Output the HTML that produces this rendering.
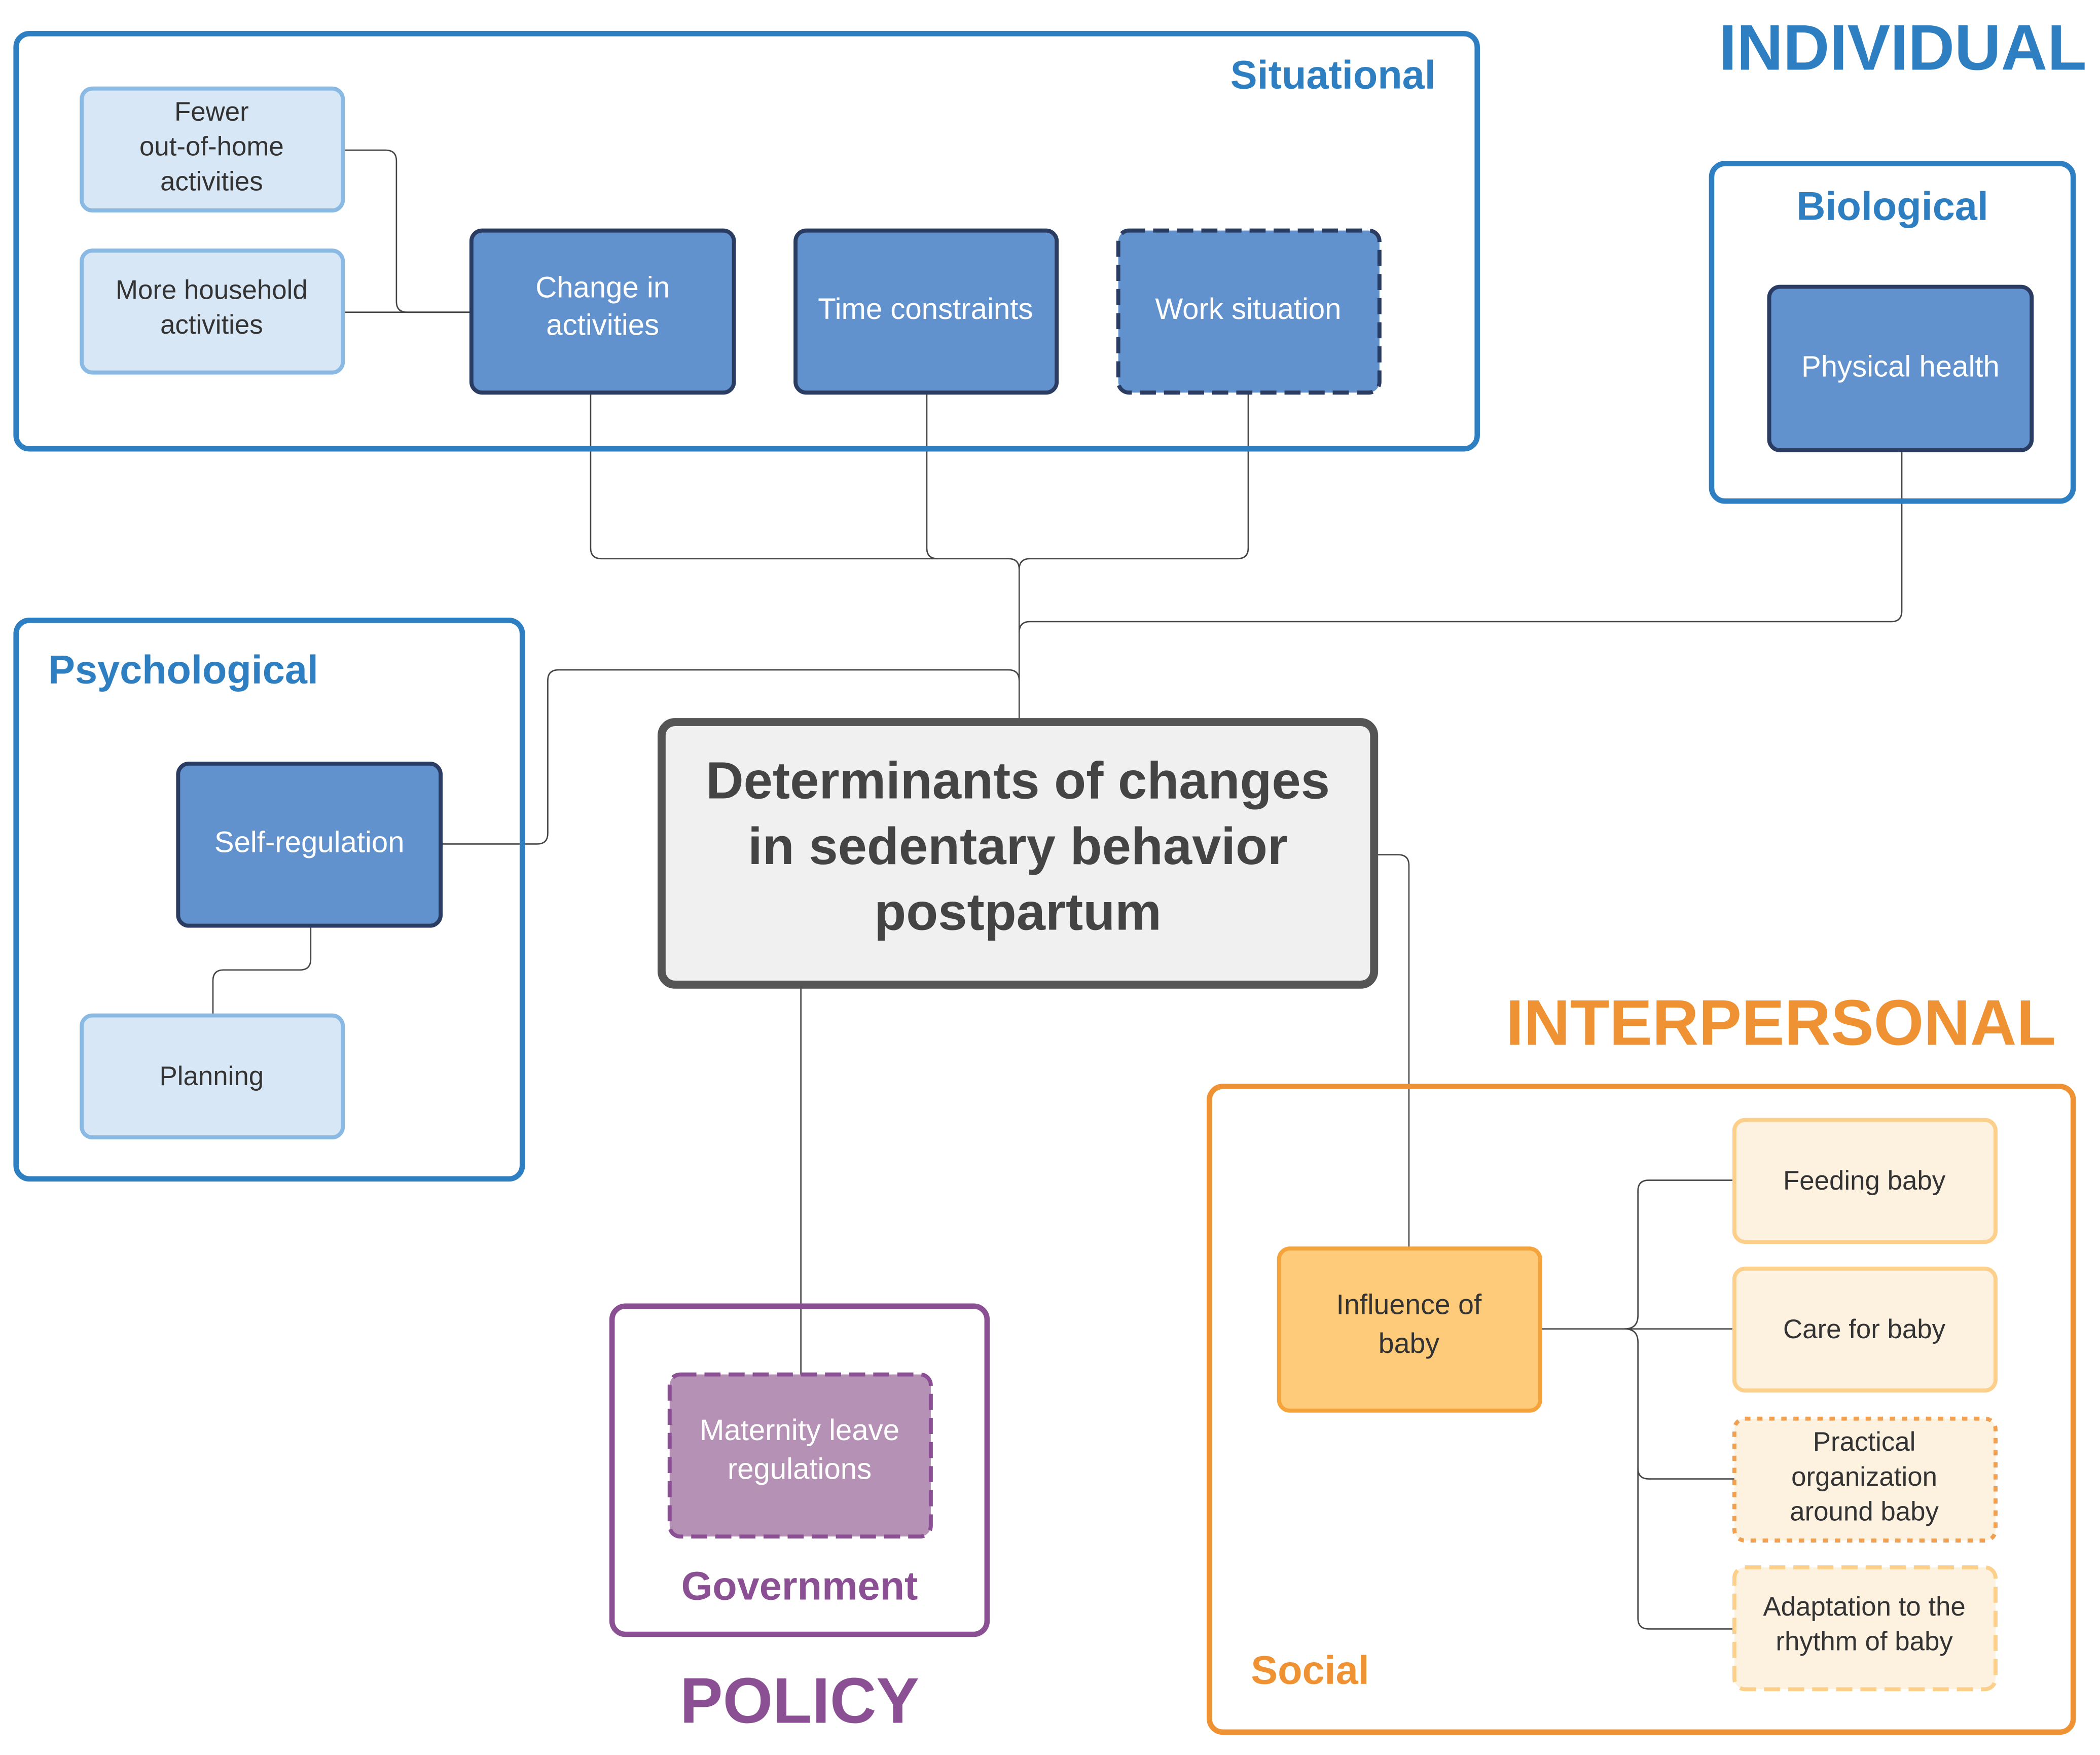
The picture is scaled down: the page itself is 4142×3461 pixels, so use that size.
<!DOCTYPE html>
<html><head><meta charset="utf-8"><style>html,body{margin:0;padding:0;background:#fff}svg{display:block}</style></head>
<body>
<svg xmlns="http://www.w3.org/2000/svg" width="4142" height="3461" viewBox="0 0 1568 1310" font-family="Liberation Sans, Arial, sans-serif">
<rect width="1568" height="1310" fill="#fff"/>
<g fill="none" stroke="#444" stroke-width="1">
<path d="M256 112 H288 Q296 112 296 120 V225 Q296 233 304 233 H352"/>
<path d="M256 233 H352"/>
<path d="M441 293 V409 Q441 417 449 417 H753 Q761 417 761 425 V539"/>
<path d="M692 293 V409 Q692 417 700 417"/>
<path d="M932 293 V409 Q932 417 924 417 H769 Q761 417 761 425"/>
<path d="M1420 336 V456 Q1420 464 1412 464 H769 Q761 464 761 472"/>
<path d="M329 630 H401 Q409 630 409 622 V508 Q409 500 417 500 H753 Q761 500 761 508"/>
<path d="M1026 638 H1044 Q1052 638 1052 646 V932"/>
<path d="M598 735 V1026"/>
<path d="M232 691 V716 Q232 724 224 724 H167 Q159 724 159 732 V758"/>
<path d="M1150 992 H1213 Q1223 992 1223 982 V889 Q1223 881 1231 881 H1295"/>
<path d="M1213 992 H1295"/>
<path d="M1213 992 Q1223 992 1223 1002 V1208 Q1223 1216 1231 1216 H1295"/>
<path d="M1223 1096 Q1223 1104 1231 1104 H1295"/>
</g>
<rect x="12" y="25" width="1091" height="310" rx="10" fill="none" stroke="#2e7fc1" stroke-width="4"/>
<rect x="1278" y="122" width="270" height="252" rx="10" fill="none" stroke="#2e7fc1" stroke-width="4"/>
<rect x="12" y="463" width="378" height="417" rx="10" fill="none" stroke="#2e7fc1" stroke-width="4"/>
<rect x="903" y="811" width="645" height="482" rx="10" fill="none" stroke="#ef9234" stroke-width="4"/>
<rect x="457" y="975" width="280" height="245" rx="10" fill="none" stroke="#8b4f93" stroke-width="4"/>
<g font-weight="bold">
<text x="1558" y="52" font-size="48" fill="#2e7fc1" text-anchor="end">INDIVIDUAL</text>
<text x="1072" y="66" font-size="30" fill="#2e7fc1" text-anchor="end">Situational</text>
<text x="1413" y="164" font-size="30" fill="#2e7fc1" text-anchor="middle">Biological</text>
<text x="36" y="510" font-size="30" fill="#2e7fc1">Psychological</text>
<text x="1535" y="780" font-size="48" fill="#ef9234" text-anchor="end">INTERPERSONAL</text>
<text x="934" y="1257" font-size="30" fill="#ef9234">Social</text>
<text x="597" y="1194" font-size="30" fill="#8b4f93" text-anchor="middle">Government</text>
<text x="597" y="1286" font-size="48" fill="#8b4f93" text-anchor="middle">POLICY</text>
</g>
<g fill="#d7e7f6" stroke="#8ab9e3" stroke-width="3">
<rect x="61" y="66" width="195" height="91" rx="8"/>
<rect x="61" y="187" width="195" height="91" rx="8"/>
<rect x="61" y="758" width="195" height="91" rx="8"/>
</g>
<g fill="#333" font-size="20" text-anchor="middle">
<text x="158" y="90">Fewer</text>
<text x="158" y="116">out-of-home</text>
<text x="158" y="142">activities</text>
<text x="158" y="223">More household</text>
<text x="158" y="249">activities</text>
<text x="158" y="810">Planning</text>
</g>
<g fill="#6192cd" stroke="#2b3c63" stroke-width="3">
<rect x="352" y="172" width="196" height="121" rx="8"/>
<rect x="594" y="172" width="195" height="121" rx="8"/>
<rect x="835" y="172" width="195" height="121" rx="8" stroke-dasharray="12 6"/>
<rect x="1321" y="214" width="196" height="122" rx="8"/>
<rect x="133" y="570" width="196" height="121" rx="8"/>
</g>
<g fill="#fff" font-size="22" text-anchor="middle">
<text x="450" y="222">Change in</text>
<text x="450" y="250">activities</text>
<text x="691" y="238">Time constraints</text>
<text x="932" y="238">Work situation</text>
<text x="1419" y="281">Physical health</text>
<text x="231" y="636">Self-regulation</text>
</g>
<rect x="494" y="539" width="532" height="196" rx="10" fill="#f0f0f0" stroke="#555" stroke-width="6"/>
<g fill="#444" font-size="39" font-weight="bold" text-anchor="middle">
<text x="760" y="596">Determinants of changes</text>
<text x="760" y="645">in sedentary behavior</text>
<text x="760" y="694">postpartum</text>
</g>
<rect x="955" y="932" width="195" height="121" rx="8" fill="#fdcb7a" stroke="#f5a33b" stroke-width="3"/>
<g fill="#fdf1e0" stroke="#fcd08a" stroke-width="3">
<rect x="1295" y="836" width="195" height="91" rx="8"/>
<rect x="1295" y="947" width="195" height="91" rx="8"/>
<rect x="1295" y="1059" width="195" height="91" rx="8" stroke="#f0a050" stroke-dasharray="4 5"/>
<rect x="1295" y="1170" width="195" height="91" rx="8" stroke-dasharray="12 6"/>
</g>
<g fill="#333" font-size="21" text-anchor="middle">
<text x="1052" y="981">Influence of</text>
<text x="1052" y="1010">baby</text>
</g>
<g fill="#333" font-size="20" text-anchor="middle">
<text x="1392" y="888">Feeding baby</text>
<text x="1392" y="999">Care for baby</text>
<text x="1392" y="1083">Practical</text>
<text x="1392" y="1109">organization</text>
<text x="1392" y="1135">around baby</text>
<text x="1392" y="1206">Adaptation to the</text>
<text x="1392" y="1232">rhythm of baby</text>
</g>
<rect x="500" y="1026" width="195" height="121" rx="8" fill="#b491b5" stroke="#8b4f93" stroke-width="3" stroke-dasharray="12 6"/>
<g fill="#fff" font-size="22" text-anchor="middle">
<text x="597" y="1075">Maternity leave</text>
<text x="597" y="1104">regulations</text>
</g>
</svg>
</body></html>
